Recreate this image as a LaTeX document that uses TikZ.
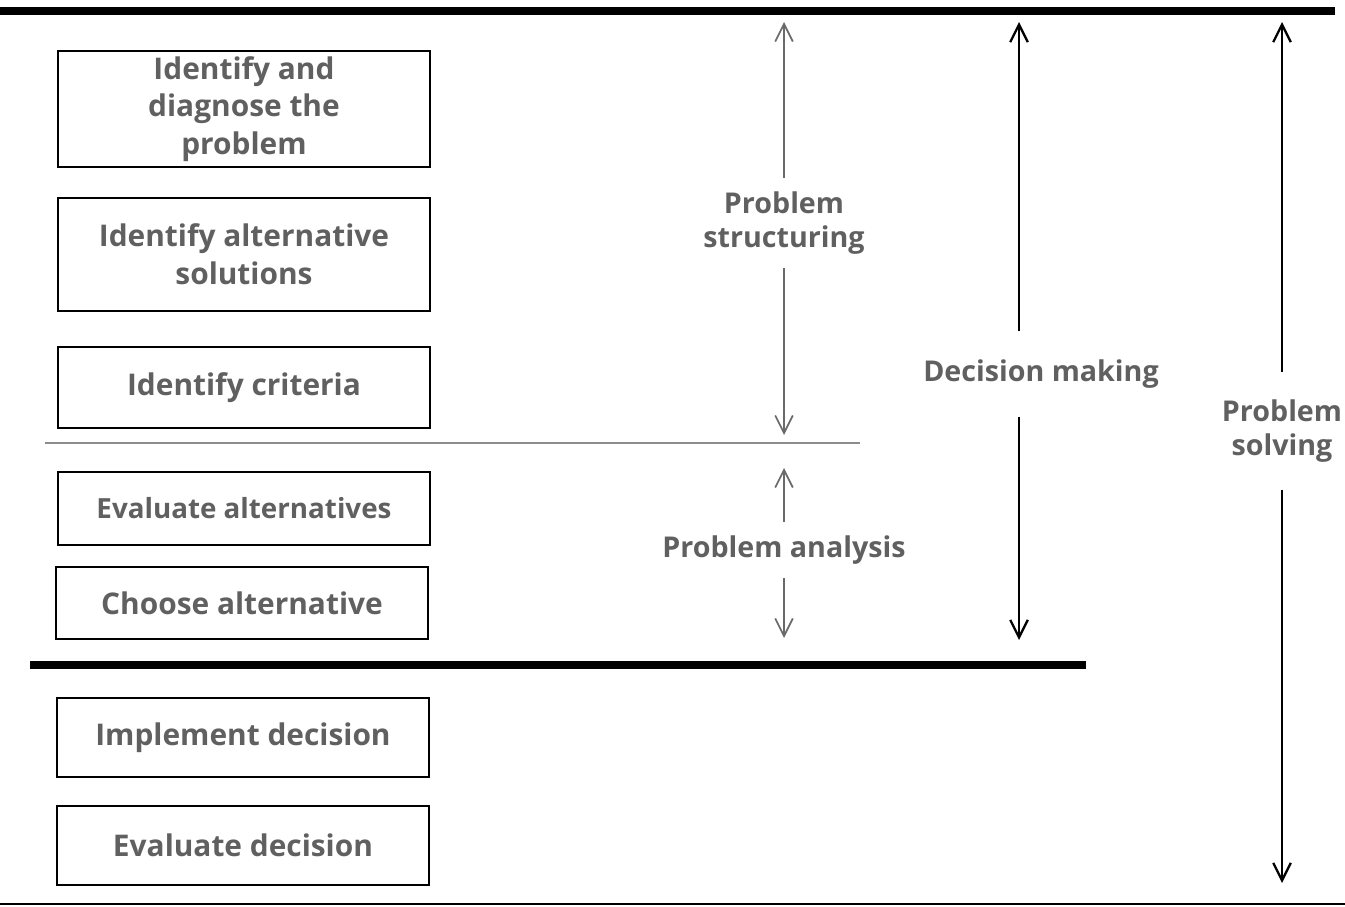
\documentclass[tikz,border=0pt]{standalone}
\usepackage{fontspec}
\setmainfont{Open Sans}
\usepackage{tikz}
\usetikzlibrary{arrows.meta, positioning, calc}
\usepackage{xcolor}

\definecolor{txtgray}{HTML}{606060}
\definecolor{arrgray}{HTML}{6A6A6A}
\definecolor{rulegray}{HTML}{8C8C8C}

\tikzset{
    stepbox/.style={draw, line width=1.1pt, minimum width=7.44cm, align=center,
        text=txtgray, font=\fontsize{17}{21.5}\selectfont\bfseries, inner sep=0pt},
    spanlbl/.style={fill=white, align=center, text=txtgray, inner xsep=0pt,
        font=\fontsize{16.3}{19.5}\selectfont\bfseries},
    tip/.style={-{Straight Barb[length=10pt, width=10pt]}}
}

\begin{document}
\begin{tikzpicture}[x=0.02cm, y=-0.02cm]
    \useasboundingbox (0, 0) rectangle (1345, 906);

    % rules
    \draw[line width=4.5pt] (0, 11) -- (1335, 11);
    \draw[line width=0.6pt, rulegray] (45, 443) -- (860, 443);
    \draw[line width=4pt] (30, 665) -- (1086, 665);
    \draw[line width=1.1pt] (0, 904) -- (1345, 904);

    % steps
    \node[stepbox, minimum height=2.32cm] (diag) at (244, 109) {Identify and\\diagnose the\\problem};
    \node[stepbox, minimum height=2.26cm] (alts) at (244, 254.5) {Identify alternative\\solutions};
    \node[stepbox, minimum height=1.62cm] (crit) at (244, 387.5) {Identify criteria};
    \node[stepbox, minimum height=1.46cm, font=\fontsize{15.8}{18}\selectfont\bfseries] (eval) at (244, 508.5) {Evaluate alternatives};
    \node[stepbox, minimum height=1.44cm] (choose) at (242, 603) {Choose alternative};
    \node[stepbox, minimum height=1.58cm] (impl) at (243, 737.5) {Implement decision};
    \node[stepbox, minimum height=1.58cm] (evdec) at (243, 845.5) {Evaluate decision};

    % problem structuring
    \coordinate (strTop) at (784, 22);
    \coordinate (strBot) at (784, 435);
    \node[spanlbl, minimum height=1.8cm] (strLbl) at (784, 223) {Problem\\structuring};
    \draw[tip, arrgray, line width=1pt] (strLbl) -- (strTop);
    \draw[tip, arrgray, line width=1pt] (strLbl) -- (strBot);

    % problem analysis
    \coordinate (anaTop) at (784, 468);
    \coordinate (anaBot) at (784, 638);
    \node[spanlbl, minimum height=1.12cm] (anaLbl) at (784, 550) {Problem analysis};
    \draw[tip, arrgray, line width=1pt] (anaLbl) -- (anaTop);
    \draw[tip, arrgray, line width=1pt] (anaLbl) -- (anaBot);

    % decision making
    \coordinate (decTop) at (1019, 22);
    \coordinate (decBot) at (1019, 640);
    \node[spanlbl, minimum height=1.7cm] (decLbl) at (1041, 374) {Decision making};
    \draw[tip, line width=1.3pt] (decLbl.north -| decTop) -- (decTop);
    \draw[tip, line width=1.3pt] (decLbl.south -| decBot) -- (decBot);

    % problem solving
    \coordinate (solTop) at (1282, 22);
    \coordinate (solBot) at (1282, 883);
    \node[spanlbl, minimum height=2.34cm] (solLbl) at (1282, 431) {Problem\\solving};
    \draw[tip, line width=1.3pt] (solLbl) -- (solTop);
    \draw[tip, line width=1.3pt] (solLbl) -- (solBot);
\end{tikzpicture}
\end{document}
